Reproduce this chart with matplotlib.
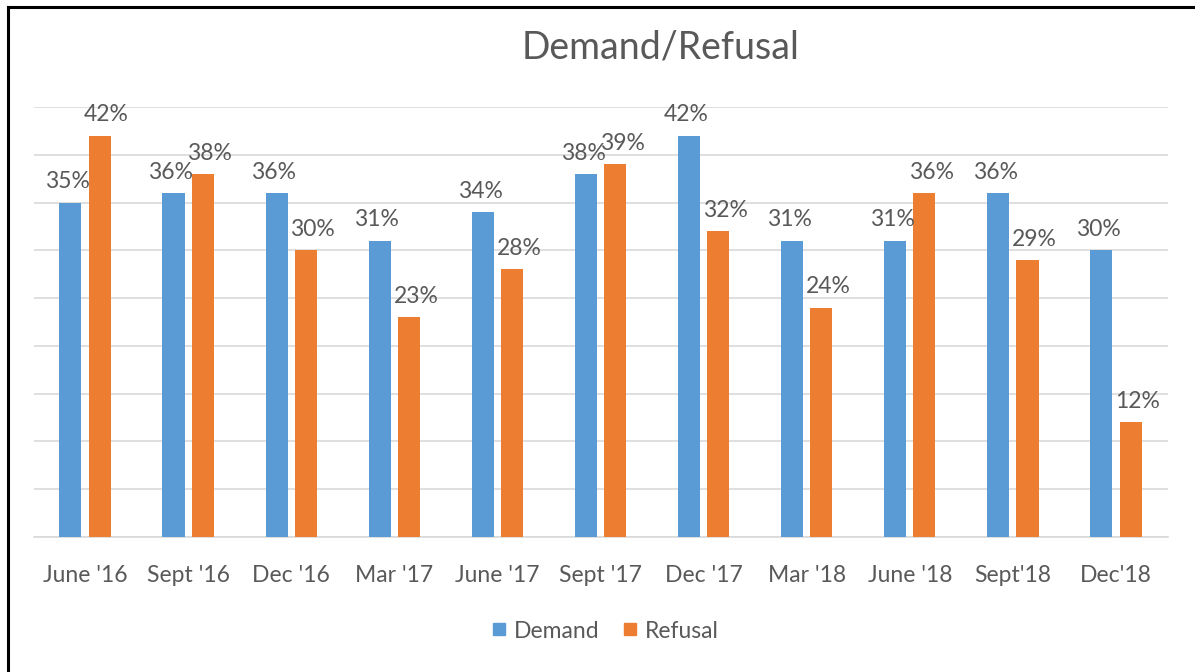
import matplotlib
matplotlib.use("Agg")
import matplotlib.pyplot as plt
import numpy as np
from matplotlib.lines import Line2D

categories = ["June '16", "Sept '16", "Dec '16", "Mar '17", "June '17", "Sept '17",
              "Dec '17", "Mar '18", "June '18", "Sept'18", "Dec'18"]
demand = [35, 36, 36, 31, 34, 38, 42, 31, 31, 36, 30]
refusal = [42, 38, 30, 23, 28, 39, 32, 24, 36, 29, 12]

BLUE = "#5B9BD5"
ORANGE = "#ED7D31"
TXT = "#595959"
GRID = "#D9D9D9"
FONT = ["Lato", "DejaVu Sans"]

plt.rcParams["font.family"] = FONT

fig = plt.figure(figsize=(11.95, 6.72), dpi=100)
ax = fig.add_axes([33.5 / 1195, 135 / 672, 1134 / 1195, 430 / 672])

x = np.arange(len(categories))
w = 0.215
off = 0.142
b1 = ax.bar(x - off, demand, w, color=BLUE, zorder=3)
b2 = ax.bar(x + off, refusal, w, color=ORANGE, zorder=3)

for rect, v in zip(b1, demand):
    ax.annotate(f"{v}%", (rect.get_x() + rect.get_width() / 2, rect.get_height()),
                xytext=(-2, 15), textcoords="offset points", ha="center", va="center",
                fontsize=16.5, color=TXT, zorder=4)
for rect, v in zip(b2, refusal):
    ax.annotate(f"{v}%", (rect.get_x() + rect.get_width() / 2, rect.get_height()),
                xytext=(5, 15), textcoords="offset points", ha="center", va="center",
                fontsize=16.5, color=TXT, zorder=4)

ax.set_xlim(-0.5, len(categories) - 0.5)
ax.set_ylim(0, 45)
ax.set_yticks(np.arange(0, 46, 5))
ax.yaxis.grid(True, color=GRID, linewidth=1.2, zorder=0)
ax.tick_params(axis="y", left=False, labelleft=False)
ax.tick_params(axis="x", length=0, pad=20, labelsize=16.5, labelcolor=TXT)
ax.set_xticks(x)
ax.set_xticklabels(categories)
for s in ["top", "right", "left"]:
    ax.spines[s].set_visible(False)
ax.spines["bottom"].set_color(GRID)
ax.spines["bottom"].set_linewidth(1.2)

fig.text(661 / 1195, 1 - 48 / 672, "Demand/Refusal", ha="center", va="center",
         fontsize=27, color=TXT)

handles = [Line2D([], [], marker="s", linestyle="none", markersize=9,
                  markerfacecolor=BLUE, markeredgecolor=BLUE),
           Line2D([], [], marker="s", linestyle="none", markersize=9,
                  markerfacecolor=ORANGE, markeredgecolor=ORANGE)]
fig.legend(handles, ["Demand", "Refusal"], loc="center",
           bbox_to_anchor=(603 / 1195, 1 - 631 / 672), ncol=2, frameon=False,
           fontsize=16.5, labelcolor=TXT, handletextpad=0.15, columnspacing=0.8,
           handlelength=1.0)

# outer frame (left and top edges visible)
fig.add_artist(Line2D([7.5 / 1195, 7.5 / 1195], [0, 1 - 6.5 / 672],
                      transform=fig.transFigure, color="black", linewidth=2.2))
fig.add_artist(Line2D([7.5 / 1195, 1], [1 - 6.5 / 672, 1 - 6.5 / 672],
                      transform=fig.transFigure, color="black", linewidth=2.2))

fig.savefig("out.png", dpi=100, facecolor="white")
